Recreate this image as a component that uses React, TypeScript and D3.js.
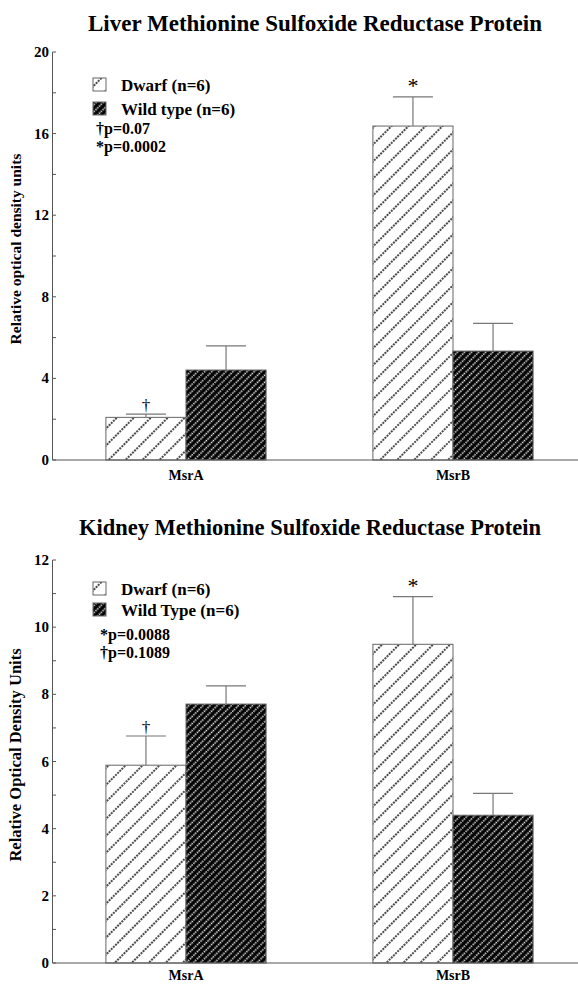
import * as d3 from 'd3';
import React from 'react';

// chart values
const categories = ['MsrA', 'MsrB'];

const liverDwarf = [2.09, 16.37];
const liverDwarfErr = [0.16, 1.43];
const liverWild = [4.41, 5.34];
const liverWildErr = [1.18, 1.36];
const liverTicks = [0, 4, 8, 12, 16, 20];
const liverMarks = ['†', '*'];

const kidneyDwarf = [5.89, 9.49];
const kidneyDwarfErr = [0.87, 1.42];
const kidneyWild = [7.71, 4.4];
const kidneyWildErr = [0.54, 0.65];
const kidneyTicks = [0, 2, 4, 6, 8, 10, 12];
const kidneyMarks = ['†', '*'];

const serif = '"Liberation Serif", "Times New Roman", serif';

function Panel({ id, title, titleX, titleY, titleSize, yLabel, yLabelY, yLabelSize, top, bottom, ticks, minorStep, dwarf, dwarfErr, wild, wildErr, marks, legend, legendY, legendGap, notes, notesX, notesY }) {
  const yMax = ticks[ticks.length - 1];
  const y = d3.scaleLinear().domain([0, yMax]).range([bottom, top]);
  const x = d3.scaleBand().domain(categories).range([52.5, 586.5]).paddingInner(0.4).paddingOuter(0.2);
  const half = x.bandwidth() / 2;
  const minor = d3.range(0, yMax + 0.001, minorStep);

  const bars = [];
  categories.forEach((c, i) => {
    bars.push({ key: c + 'd', x0: x(c), v: dwarf[i], e: dwarfErr[i], fill: `url(#${id}-dwarf)`, mark: marks[i] });
    bars.push({ key: c + 'w', x0: x(c) + half, v: wild[i], e: wildErr[i], fill: `url(#${id}-wild)`, mark: null });
  });

  return (
    <g>
      <defs>
        <pattern id={`${id}-dwarf`} patternUnits="userSpaceOnUse" width="12" height="12" patternTransform="rotate(45)">
          <rect width="12" height="12" fill="#fff" />
          <line x1="6" y1="0" x2="6" y2="12" stroke="#000" strokeWidth="1.4" strokeDasharray="2 1" />
        </pattern>
        <pattern id={`${id}-wild`} patternUnits="userSpaceOnUse" width="5" height="5" patternTransform="rotate(45)">
          <rect width="5" height="5" fill="#000" />
          <line x1="2.5" y1="0" x2="2.5" y2="5" stroke="#f2f2f2" strokeWidth="1.6" strokeDasharray="1.5 1" />
        </pattern>
      </defs>

      <text x={titleX} y={titleY} textAnchor="middle" fontFamily={serif} fontWeight="bold" fontSize={titleSize}>{title}</text>

      {/* bars */}
      {bars.map(b => (
        <rect key={b.key} x={b.x0} y={y(b.v)} width={half} height={bottom - y(b.v)} fill={b.fill} stroke="#666" strokeWidth="1" />
      ))}

      {/* error bars */}
      {bars.map(b => {
        const cx = b.x0 + half / 2;
        return (
          <g key={b.key + 'e'} stroke="#777" strokeWidth="1.2">
            <line x1={cx} x2={cx} y1={y(b.v)} y2={y(b.v + b.e)} />
            <line x1={cx - 20} x2={cx + 20} y1={y(b.v + b.e)} y2={y(b.v + b.e)} />
          </g>
        );
      })}

      {/* significance marks */}
      {bars.filter(b => b.mark).map(b => (
        <text key={b.key + 'm'} x={b.x0 + half / 2} y={y(b.v + b.e) - (b.mark === '*' ? 4 : 3)} textAnchor="middle" fill="#000" fontFamily={serif} fontSize={b.mark === '*' ? 22 : 17}>{b.mark}</text>
      ))}

      {/* axes */}
      <line x1={52.5} x2={52.5} y1={y(0)} y2={y(yMax)} stroke="#555" />
      <line x1={52.5} x2={578} y1={y(0)} y2={y(0)} stroke="#555" />
      {minor.map(t => (
        <line key={'m' + t} x1={52.5} x2={56} y1={y(t)} y2={y(t)} stroke="#555" />
      ))}
      {ticks.map(t => (
        <text key={'t' + t} x={49} y={y(t) + 5} textAnchor="end" fontFamily={serif} fontWeight="bold" fontSize="15">{t}</text>
      ))}
      {categories.map(c => (
        <text key={c} x={x(c) + half} y={Math.min(bottom + 20, 980)} textAnchor="middle" fontFamily={serif} fontWeight="bold" fontSize="14">{c}</text>
      ))}
      <text transform={`translate(21,${yLabelY}) rotate(-90)`} textAnchor="middle" fontFamily={serif} fontWeight="bold" fontSize={yLabelSize}>{yLabel}</text>

      {/* legend */}
      {legend.map((l, i) => (
        <g key={l} transform={`translate(93,${legendY + i * legendGap})`}>
          <rect width="13" height="13" fill={`url(#${id}-${i === 0 ? 'dwarf' : 'wild'})`} stroke="#666" />
          <text x={28} y={13} fontFamily={serif} fontWeight="bold" fontSize="17">{l}</text>
        </g>
      ))}
      {notes.map((n, i) => (
        <text key={n} x={notesX} y={notesY + i * 18} fontFamily={serif} fontWeight="bold" fontSize="16">{n}</text>
      ))}
    </g>
  );
}

export default function App() {
  return (
    <div style={{ position: 'absolute', left: 0, top: 0 }}>
      <svg width={578} height={984} style={{ display: 'block', background: '#fff' }}>
        <Panel
          id="liver"
          title="Liver Methionine Sulfoxide Reductase Protein"
          titleX={315}
          titleY={31}
          titleSize={23}
          yLabel="Relative optical density units"
          yLabelY={249}
          yLabelSize={15.5}
          top={52}
          bottom={460}
          ticks={liverTicks}
          minorStep={2}
          dwarf={liverDwarf}
          dwarfErr={liverDwarfErr}
          wild={liverWild}
          wildErr={liverWildErr}
          marks={liverMarks}
          legend={['Dwarf (n=6)', 'Wild type (n=6)']}
          legendY={78}
          legendGap={24}
          notes={['†p=0.07', '*p=0.0002']}
          notesX={96}
          notesY={134}
        />
        <Panel
          id="kidney"
          title="Kidney Methionine Sulfoxide Reductase Protein"
          titleX={310}
          titleY={535}
          titleSize={22.5}
          yLabel="Relative Optical Density Units"
          yLabelY={755}
          yLabelSize={16.5}
          top={560}
          bottom={963}
          ticks={kidneyTicks}
          minorStep={1}
          dwarf={kidneyDwarf}
          dwarfErr={kidneyDwarfErr}
          wild={kidneyWild}
          wildErr={kidneyWildErr}
          marks={kidneyMarks}
          legend={['Dwarf (n=6)', 'Wild Type (n=6)']}
          legendY={582}
          legendGap={21}
          notes={['*p=0.0088', '†p=0.1089']}
          notesX={100}
          notesY={640}
        />
      </svg>
    </div>
  );
}
